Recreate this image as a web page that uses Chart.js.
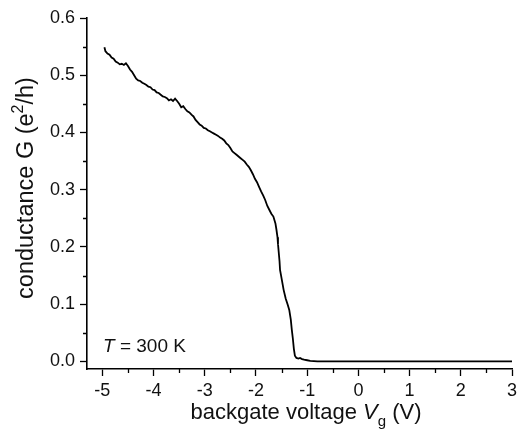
<!DOCTYPE html>
<html>
<head>
    <meta charset="UTF-8">
    <title>Conductance vs backgate voltage</title>
    <script src="https://cdn.jsdelivr.net/npm/chart.js@4.4.1/dist/chart.umd.min.js"></script>
    <style>
        body { margin: 0; background: #fff; }
        #wrap { width: 522px; height: 441px; }
    </style>
</head>
<body>
    <div id="wrap">
        <canvas id="myChart" width="522" height="441"></canvas>
    </div>
    <script>
        // backgate voltage (V) and conductance (e^2/h)
        var vg = [-4.96, -4.94, -4.90, -4.86, -4.82, -4.78, -4.74, -4.70, -4.66, -4.62,
                  -4.58, -4.54, -4.50, -4.46, -4.42, -4.38, -4.34, -4.30, -4.26, -4.22,
                  -4.18, -4.14, -4.10, -4.06, -4.02, -3.98, -3.94, -3.90, -3.86, -3.82,
                  -3.78, -3.74, -3.70, -3.66, -3.62, -3.58, -3.54, -3.50, -3.46, -3.42,
                  -3.38, -3.34, -3.30, -3.26, -3.22, -3.18, -3.14, -3.10, -3.06, -3.02,
                  -2.98, -2.94, -2.90, -2.86, -2.82, -2.78, -2.74, -2.70, -2.66, -2.62,
                  -2.58, -2.54, -2.50, -2.46, -2.42, -2.38, -2.34, -2.30, -2.26, -2.22,
                  -2.18, -2.14, -2.10, -2.06, -2.02, -1.98, -1.94, -1.90, -1.86, -1.82,
                  -1.78, -1.74, -1.70, -1.66, -1.62, -1.60, -1.58, -1.57, -1.56, -1.54,
                  -1.53, -1.50, -1.46, -1.42, -1.38, -1.35, -1.32, -1.30, -1.28, -1.26,
                  -1.24, -1.21, -1.17, -1.14, -1.10, -1.06, -1.00, -0.94, -0.80, 3.00];
        var cond = [0.549, 0.542, 0.538, 0.536, 0.531, 0.529, 0.524, 0.522, 0.519, 0.520,
                    0.518, 0.521, 0.516, 0.510, 0.506, 0.500, 0.494, 0.491, 0.490, 0.487,
                    0.485, 0.483, 0.480, 0.479, 0.475, 0.474, 0.470, 0.469, 0.466, 0.463,
                    0.462, 0.460, 0.456, 0.458, 0.455, 0.459, 0.455, 0.450, 0.444, 0.446,
                    0.441, 0.437, 0.435, 0.431, 0.428, 0.422, 0.418, 0.414, 0.412, 0.408,
                    0.407, 0.404, 0.402, 0.400, 0.398, 0.396, 0.394, 0.391, 0.389, 0.386,
                    0.381, 0.378, 0.373, 0.367, 0.364, 0.361, 0.358, 0.355, 0.352, 0.349,
                    0.344, 0.340, 0.334, 0.327, 0.319, 0.313, 0.305, 0.297, 0.290, 0.282,
                    0.272, 0.265, 0.258, 0.253, 0.241, 0.230, 0.217, 0.205, 0.195, 0.175,
                    0.160, 0.145, 0.125, 0.110, 0.099, 0.090, 0.073, 0.055, 0.040, 0.022,
                    0.010, 0.006, 0.005, 0.006, 0.004, 0.003, 0.002, 0.001, 0.000, 0.000];

        var xTicks = [-5, -4, -3, -2, -1, 0, 1, 2, 3];
        var xMinor = [-4.5, -3.5, -2.5, -1.5, -0.5, 0.5, 1.5, 2.5];
        var yTicks = [0, 0.1, 0.2, 0.3, 0.4, 0.5, 0.6];
        var yMinor = [0.05, 0.15, 0.25, 0.35, 0.45, 0.55];

        var FONT = "'Liberation Sans', Arial, sans-serif";

        function drawRich(ctx, parts, x, y) {
            var total = 0;
            parts.forEach(function(p) {
                ctx.font = p.font;
                p.w = ctx.measureText(p.t).width;
                total += p.w;
            });
            var cx = x - total / 2;
            parts.forEach(function(p) {
                ctx.font = p.font;
                ctx.fillText(p.t, cx, y + (p.dy || 0));
                cx += p.w;
            });
        }

        // minor ticks + axis titles + annotation
        var extras = {
            id: 'extras',
            afterDraw: function(chart) {
                var ctx = chart.ctx;
                var xs = chart.scales.x, ys = chart.scales.y;
                var a = chart.chartArea;
                ctx.save();
                ctx.strokeStyle = '#000';
                ctx.lineWidth = 1.3;
                ctx.beginPath();
                xMinor.forEach(function(v) {
                    var px = Math.round(xs.getPixelForValue(v)) + 0.5;
                    ctx.moveTo(px, a.bottom);
                    ctx.lineTo(px, a.bottom + 4);
                });
                yMinor.forEach(function(v) {
                    var py = Math.round(ys.getPixelForValue(v)) + 0.5;
                    ctx.moveTo(a.left, py);
                    ctx.lineTo(a.left - 4, py);
                });
                ctx.stroke();

                ctx.fillStyle = '#111';
                ctx.textAlign = 'left';
                ctx.textBaseline = 'alphabetic';
                var f = '22px ' + FONT, fi = 'italic 22px ' + FONT, fs = '15px ' + FONT;
                drawRich(ctx, [
                    {t: 'backgate voltage ', font: f},
                    {t: 'V', font: fi},
                    {t: 'g', font: fs, dy: 7},
                    {t: ' (V)', font: f}
                ], 306, 419);

                var fy = '23.5px ' + FONT, fys = '16px ' + FONT;
                ctx.save();
                ctx.translate(33, 188);
                ctx.rotate(-Math.PI / 2);
                drawRich(ctx, [
                    {t: 'conductance G (e', font: fy},
                    {t: '2', font: fys, dy: -10},
                    {t: '/h)', font: fy}
                ], 0, 0);
                ctx.restore();

                var g = '19px ' + FONT;
                ctx.font = 'italic ' + g;
                ctx.fillText('T', 103, 352);
                var tw = ctx.measureText('T').width;
                ctx.font = g;
                ctx.fillText(' = 300 K', 103 + tw, 352);
                ctx.restore();
            }
        };

        new Chart('myChart', {
            type: 'line',
            data: {
                datasets: [{
                    data: vg.map(function(v, i) { return {x: v, y: cond[i]}; }),
                    borderColor: '#000',
                    borderWidth: 1.8,
                    pointRadius: 0,
                    tension: 0,
                    fill: false
                }]
            },
            options: {
                responsive: false,
                animation: false,
                layout: { padding: { top: 18, right: 10, left: 0, bottom: 0 } },
                plugins: { legend: { display: false }, tooltip: { enabled: false } },
                scales: {
                    x: {
                        type: 'linear',
                        min: -5.3,
                        max: 3,
                        afterBuildTicks: function(s) { s.ticks = xTicks.map(function(v) { return {value: v}; }); },
                        afterFit: function(s) { s.height = 72; },
                        border: { display: true, color: '#000', width: 1.6 },
                        grid: { drawOnChartArea: false, drawTicks: true, tickLength: 7, tickColor: '#000', tickWidth: 1.3 },
                        ticks: {
                            color: '#111',
                            padding: 4,
                            maxRotation: 0,
                            font: { family: FONT, size: 18 },
                            callback: function(v) { return String(v); }
                        }
                    },
                    y: {
                        min: -0.0133,
                        max: 0.6,
                        afterBuildTicks: function(s) { s.ticks = yTicks.map(function(v) { return {value: v}; }); },
                        afterFit: function(s) { s.width = 87; },
                        border: { display: true, color: '#000', width: 1.6 },
                        grid: { drawOnChartArea: false, drawTicks: true, tickLength: 7, tickColor: '#000', tickWidth: 1.3 },
                        ticks: {
                            color: '#111',
                            padding: 5,
                            font: { family: FONT, size: 18 },
                            callback: function(v) { return v.toFixed(1); }
                        }
                    }
                }
            },
            plugins: [extras]
        });
    </script>
</body>
</html>
